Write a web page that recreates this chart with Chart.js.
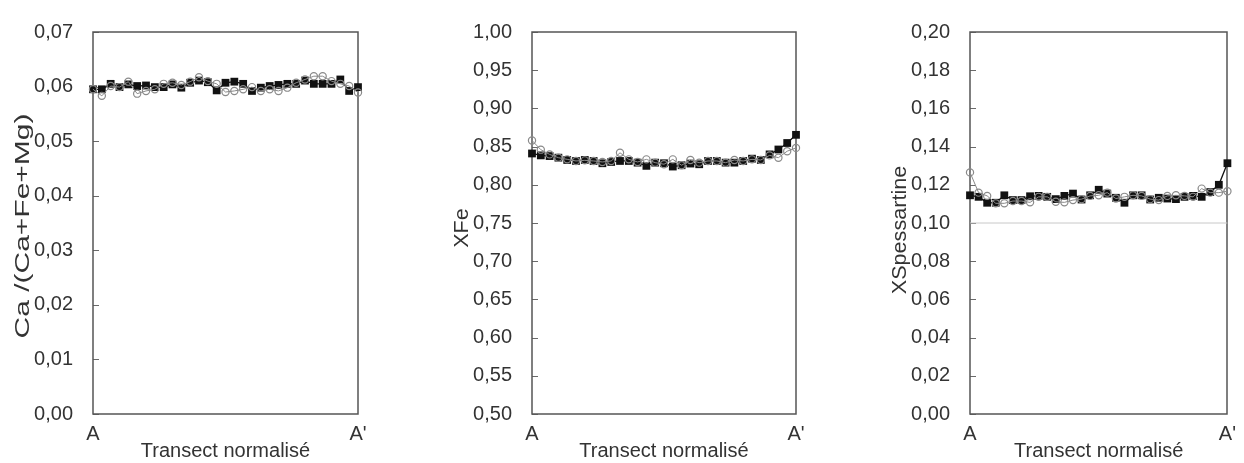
<!DOCTYPE html>
<html>
<head>
<meta charset="utf-8">
<script src="https://cdn.jsdelivr.net/npm/chart.js@4/dist/chart.umd.min.js"></script>
<style>
  html, body { margin: 0; padding: 0; background: #fff; }
  #wrap { position: relative; width: 1244px; height: 463px; overflow: hidden; }
  .panel { position: absolute; top: 0; }
  .panel canvas { display: block; }
</style>
</head>
<body>
<div id="wrap">
  <div class="panel" style="left:0px"><canvas id="chartCa" width="400" height="463"></canvas></div>
  <div class="panel" style="left:439px"><canvas id="chartFe" width="400" height="463"></canvas></div>
  <div class="panel" style="left:877px"><canvas id="chartSps" width="367" height="463"></canvas></div>
</div>
<script>
// Analysis stations along the transect, from A to A'
const stations = [1, 2, 3, 4, 5, 6, 7, 8, 9, 10, 11, 12, 13, 14, 15, 16,
                  17, 18, 19, 20, 21, 22, 23, 24, 25, 26, 27, 28, 29, 30, 31];
const transectEnds = ['A', "A'"];
const xAxisTitle = 'Transect normalisé';

// Ca/(Ca+Fe+Mg)
const caSquares = [0.0595, 0.0595, 0.0605, 0.0599, 0.0604, 0.0601, 0.0602, 0.0599, 0.0599, 0.0604, 0.0598,
                   0.0607, 0.0611, 0.0608, 0.0593, 0.0607, 0.0609, 0.0605, 0.0592, 0.0598, 0.0601, 0.0603,
                   0.0605, 0.0605, 0.0611, 0.0605, 0.0605, 0.0605, 0.0613, 0.0592, 0.0599];
const caCircles = [0.0595, 0.0583, 0.0601, 0.0599, 0.0609, 0.0587, 0.0592, 0.0595, 0.0605, 0.0607, 0.0603,
                   0.0609, 0.0617, 0.0610, 0.0605, 0.0590, 0.0592, 0.0595, 0.0599, 0.0592, 0.0595, 0.0592,
                   0.0598, 0.0607, 0.0613, 0.0619, 0.0619, 0.0610, 0.0605, 0.0601, 0.0589];

// XFe
const feSquares = [0.8410, 0.8385, 0.8376, 0.8355, 0.8325, 0.8312, 0.8325, 0.8312, 0.8282, 0.8299, 0.8312,
                   0.8312, 0.8290, 0.8248, 0.8290, 0.8282, 0.8239, 0.8256, 0.8278, 0.8269, 0.8312, 0.8312,
                   0.8290, 0.8290, 0.8312, 0.8342, 0.8325, 0.8398, 0.8462, 0.8547, 0.8654];
const feCircles = [0.8580, 0.8460, 0.8398, 0.8355, 0.8333, 0.8312, 0.8320, 0.8312, 0.8299, 0.8312, 0.8419,
                   0.8333, 0.8299, 0.8333, 0.8290, 0.8269, 0.8333, 0.8256, 0.8325, 0.8290, 0.8312, 0.8312,
                   0.8290, 0.8325, 0.8312, 0.8333, 0.8325, 0.8385, 0.8355, 0.8440, 0.8483];

// XSpessartine
const spsSquares = [0.1145, 0.1137, 0.1106, 0.1106, 0.1145, 0.1120, 0.1120, 0.1140, 0.1142, 0.1137, 0.1125,
                    0.1142, 0.1154, 0.1123, 0.1145, 0.1174, 0.1154, 0.1132, 0.1106, 0.1145, 0.1145, 0.1123,
                    0.1132, 0.1128, 0.1125, 0.1137, 0.1142, 0.1137, 0.1162, 0.1200, 0.1313];
const spsCircles = [0.1265, 0.1159, 0.1142, 0.1103, 0.1103, 0.1115, 0.1115, 0.1108, 0.1137, 0.1137, 0.1111,
                    0.1108, 0.1120, 0.1125, 0.1142, 0.1145, 0.1159, 0.1128, 0.1137, 0.1145, 0.1142, 0.1125,
                    0.1120, 0.1142, 0.1145, 0.1142, 0.1137, 0.1180, 0.1159, 0.1159, 0.1166];
const spsReference = [0.10, 0.10];

// Y axis ranges: [min, max, step]
const caRange = [0, 0.07, 0.01];
const feRange = [0.50, 1.00, 0.05];
const spsRange = [0, 0.20, 0.02];

const TEXT = '#333333';
const FONT = '"Liberation Sans", Arial, sans-serif';

// Box frame around the plot area with short inward tick marks on the y axis
const framePlugin = {
  id: 'frame',
  beforeDatasetsDraw(chart) {
    const { ctx, chartArea: a, scales: { y } } = chart;
    ctx.save();
    ctx.strokeStyle = '#6a6a6a';
    ctx.lineWidth = 1;
    y.ticks.forEach(t => {
      const py = Math.round(y.getPixelForValue(t.value)) + 0.5;
      ctx.beginPath();
      ctx.moveTo(a.left, py);
      ctx.lineTo(a.left + 6, py);
      ctx.stroke();
    });
    ctx.strokeStyle = '#555555';
    ctx.lineWidth = 1.5;
    ctx.strokeRect(Math.round(a.left), Math.round(a.top), Math.round(a.right - a.left), Math.round(a.bottom - a.top));
    ctx.restore();
  }
};

// Rotated y-axis title, set in the wide lettering of the original figure
const yTitlePlugin = {
  id: 'yTitle',
  afterDraw(chart, args, opts) {
    const { ctx, chartArea: a } = chart;
    ctx.save();
    ctx.translate(a.left - opts.gap, opts.centerY);
    ctx.rotate(-Math.PI / 2);
    ctx.scale(opts.stretch, 1);
    ctx.font = `${opts.size}px ${FONT}`;
    ctx.fillStyle = TEXT;
    ctx.textAlign = 'center';
    ctx.textBaseline = 'middle';
    ctx.fillText(opts.text, 0, 0);
    ctx.restore();
  }
};

function fmt(v) {
  return v.toFixed(2).replace('.', ',');
}

function makePanel(id, yTitle, titleStretch, titleCenterY, range, squares, circles, extra, padRight) {
  const datasets = [];
  if (extra) {
    datasets.push({
      data: extra.map((v, i) => ({ x: i === 0 ? stations[0] : stations[stations.length - 1], y: v })),
      borderColor: '#c8c8c8',
      borderWidth: 1,
      pointRadius: 0,
      order: 3
    });
  }
  datasets.push({
    data: squares,
    borderColor: '#111',
    backgroundColor: '#111',
    borderWidth: 1.3,
    pointStyle: 'rect',
    pointRadius: 5.5,
    pointBorderWidth: 0,
    clip: false,
    order: 2
  });
  datasets.push({
    data: circles,
    borderColor: '#8a8a8a',
    backgroundColor: 'rgba(255,255,255,0)',
    borderWidth: 1,
    pointStyle: 'circle',
    pointRadius: 3.6,
    pointBorderWidth: 1.2,
    clip: false,
    order: 1
  });

  return new Chart(document.getElementById(id), {
    type: 'line',
    data: { labels: stations, datasets },
    plugins: [framePlugin, yTitlePlugin],
    options: {
      responsive: false,
      animation: false,
      events: [],
      layout: { padding: { top: 23, right: padRight, bottom: 0, left: 0 } },
      plugins: {
        legend: { display: false },
        tooltip: { enabled: false },
        yTitle: { text: yTitle, size: 20, stretch: titleStretch, gap: 70, centerY: titleCenterY }
      },
      elements: { line: { tension: 0 } },
      scales: {
        x: {
          type: 'category',
          offset: false,
          grid: { display: false, drawTicks: false },
          border: { display: false },
          ticks: {
            autoSkip: false,
            maxRotation: 0,
            padding: 8,
            color: TEXT,
            font: { family: FONT, size: 20 },
            callback: (v, i, arr) => i === 0 ? transectEnds[0] : (i === arr.length - 1 ? transectEnds[1] : '')
          },
          title: {
            display: true,
            text: xAxisTitle,
            color: TEXT,
            font: { family: FONT, size: 20 },
            padding: { top: 0, bottom: 0 }
          },
          afterFit(scale) { scale.height = 49; }
        },
        y: {
          min: range[0],
          max: range[1],
          grid: { display: false, drawTicks: false },
          border: { display: false },
          ticks: {
            stepSize: range[2],
            padding: 20,
            color: TEXT,
            font: { family: FONT, size: 20 },
            callback: v => fmt(v)
          },
          title: { display: false },
          afterFit(scale) { scale.width = 93; }
        }
      }
    }
  });
}

makePanel('chartCa', 'Ca /(Ca+Fe+Mg)', 1.5, 226, caRange, caSquares, caCircles, null, 42);
makePanel('chartFe', 'XFe', 1.08, 228, feRange, feSquares, feCircles, null, 43);
makePanel('chartSps', 'XSpessartine', 1.08, 230, spsRange, spsSquares, spsCircles, spsReference, 11);
</script>
</body>
</html>
